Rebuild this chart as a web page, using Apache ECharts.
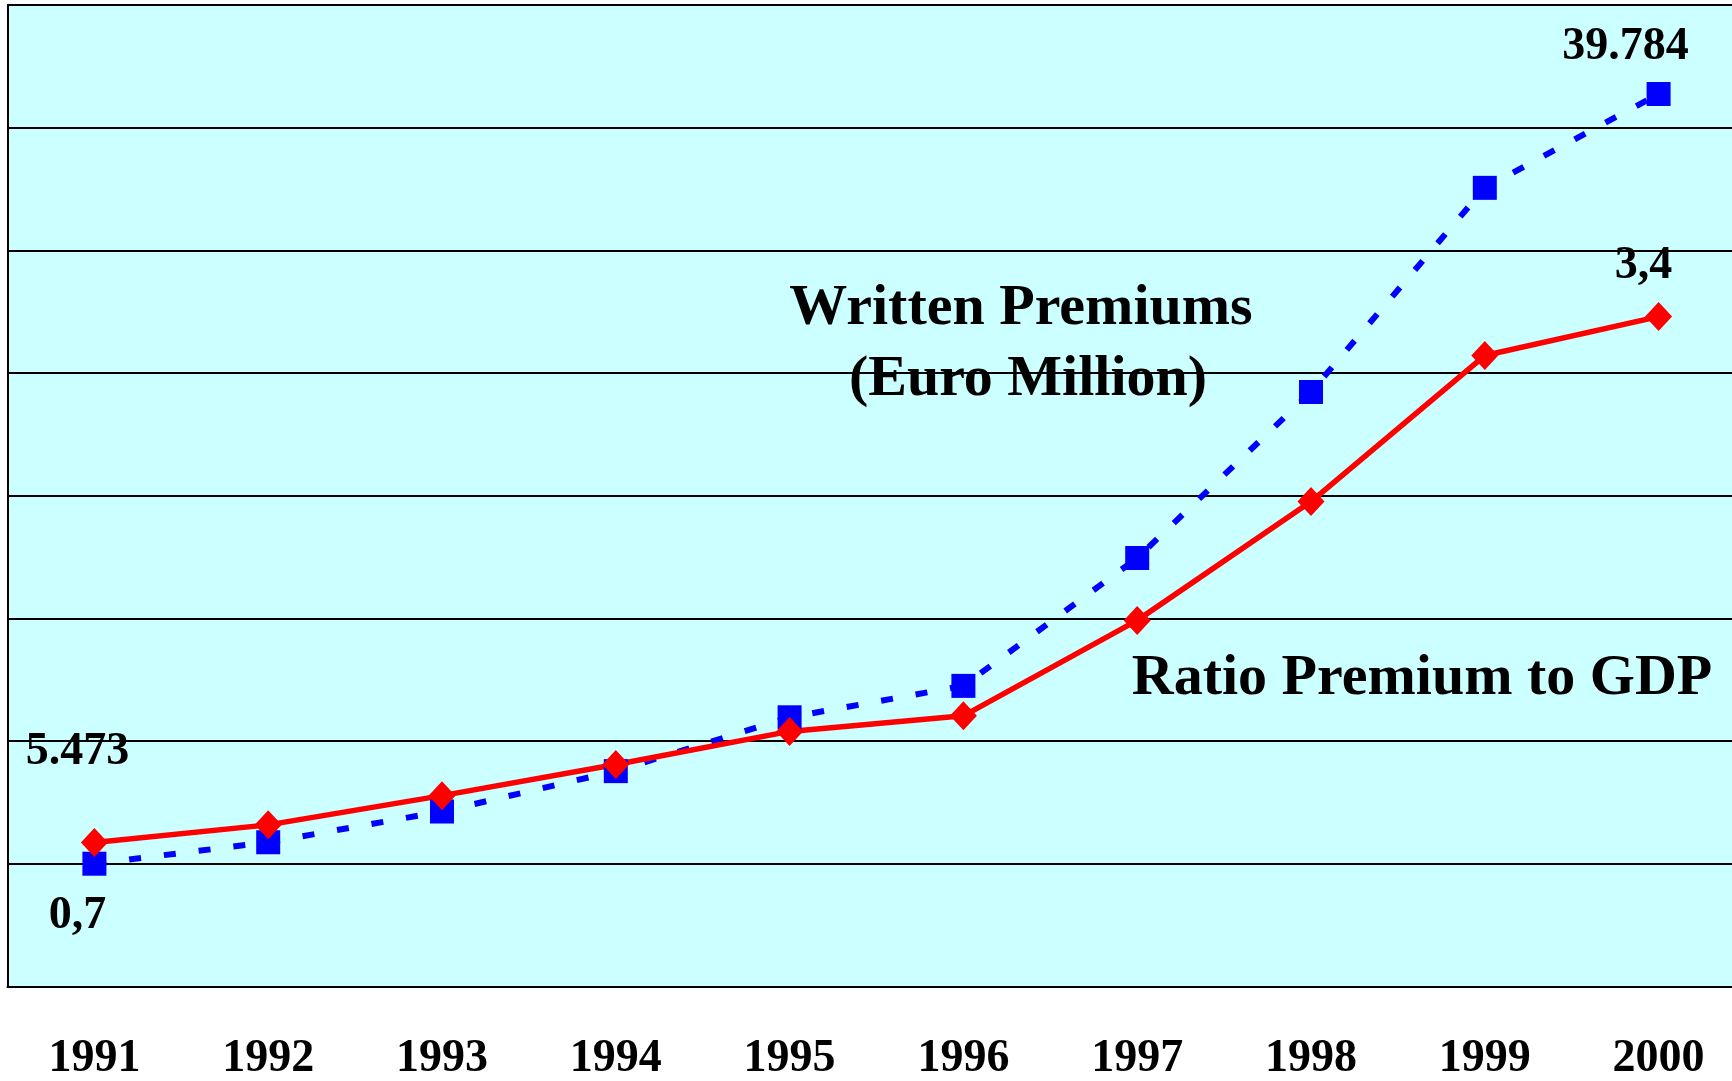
<!DOCTYPE html>
<html>
<head>
<meta charset="utf-8">
<title>Written Premiums / Ratio Premium to GDP</title>
<script src="https://cdn.jsdelivr.net/npm/echarts@6/dist/echarts.min.js"></script>
<style>
  html,
  body {
    margin: 0;
    padding: 0;
    background: #fff;
  }
  .main {
    width: 1732px;
    height: 1081px;
  }
</style>
</head>
<body>
<div class="main" id="main"></div>
<script>
// 数据
const years = ['1991', '1992', '1993', '1994', '1995', '1996', '1997', '1998', '1999', '2000']
const premiums = [5473, 6430, 7800, 9600, 12000, 13400, 19100, 26500, 35600, 39784] // Euro Million
const ratio = [0.7, 0.79, 0.94, 1.1, 1.27, 1.35, 1.84, 2.45, 3.2, 3.4] // %

const fontFamily = "'Liberation Serif', 'Times New Roman', serif"

// 只给首尾两个点加数值标签
function premiumData() {
  return premiums.map((v, i) => {
    if (i === 0) return { value: v, label: { show: true, offset: [-17, -112] } }
    if (i === premiums.length - 1) return { value: v, label: { show: true, offset: [-33, -47] } }
    return v
  })
}
function ratioData() {
  return ratio.map((v, i) => {
    if (i === 0) return { value: v, label: { show: true, offset: [-17, 74] } }
    if (i === ratio.length - 1) return { value: v, label: { show: true, offset: [-15, -50] } }
    return v
  })
}

const chart = echarts.init(document.getElementById('main'))
const option = {
  animation: false,
  grid: {
    // 绘图区右侧超出画布, 不让标签挤压绘图区
    outerBoundsMode: 'none',
    left: 7.5,
    width: 1738,
    top: 5,
    bottom: 94.5,
    show: true,
    backgroundColor: '#CCFFFF',
    borderWidth: 0,
  },
  xAxis: {
    type: 'category',
    data: years,
    boundaryGap: true,
    axisLine: { lineStyle: { color: '#000', width: 2 } },
    axisTick: { show: false },
    axisLabel: {
      margin: 50,
      color: '#000',
      fontFamily: fontFamily,
      fontWeight: 'bold',
      fontSize: 46,
      lineHeight: 46,
    },
  },
  yAxis: [
    {
      // 保费 (左轴, 不显示刻度文字, 只画网格线)
      type: 'value',
      min: 0,
      max: 43750,
      interval: 5468.75,
      axisLine: { show: true, lineStyle: { color: '#000', width: 2 } },
      axisTick: { show: false },
      axisLabel: { show: false },
      splitLine: { show: true, lineStyle: { color: '#000', width: 2 } },
    },
    {
      // 保费占GDP比例
      type: 'value',
      min: -0.04,
      max: 5,
      show: false,
      splitLine: { show: false },
    },
  ],
  series: [
    {
      name: 'Written Premiums',
      type: 'line',
      yAxisIndex: 0,
      data: premiumData(),
      symbol: 'rect',
      symbolSize: 24,
      itemStyle: { color: '#0000FF' },
      lineStyle: { color: '#0000FF', width: 6, type: [12, 23], cap: 'butt' },
      label: {
        show: false,
        position: 'inside',
        color: '#000',
        fontFamily: fontFamily,
        fontWeight: 'bold',
        fontSize: 46,
        formatter: (p) => p.value.toLocaleString('de-DE'),
      },
    },
    {
      name: 'Ratio Premium to GDP',
      type: 'line',
      yAxisIndex: 1,
      data: ratioData(),
      symbol: 'diamond',
      symbolSize: [27, 29],
      itemStyle: { color: '#FF0000' },
      lineStyle: { color: '#FF0000', width: 5.5 },
      label: {
        show: false,
        position: 'inside',
        color: '#000',
        fontFamily: fontFamily,
        fontWeight: 'bold',
        fontSize: 46,
        formatter: (p) => String(p.value).replace('.', ','),
      },
    },
  ],
  graphic: [
    {
      type: 'text',
      x: 1021,
      y: 309,
      z: 100,
      style: {
        text: 'Written Premiums',
        fill: '#000',
        font: 'bold 58px ' + fontFamily,
        align: 'center',
        verticalAlign: 'middle',
      },
    },
    {
      type: 'text',
      x: 1028,
      y: 380,
      z: 100,
      style: {
        text: '(Euro Million)',
        fill: '#000',
        font: 'bold 58px ' + fontFamily,
        align: 'center',
        verticalAlign: 'middle',
      },
    },
    {
      type: 'text',
      x: 1422,
      y: 679,
      z: 100,
      style: {
        text: 'Ratio Premium to GDP',
        fill: '#000',
        font: 'bold 58px ' + fontFamily,
        align: 'center',
        verticalAlign: 'middle',
      },
    },
  ],
}
chart.setOption(option)
</script>
</body>
</html>
